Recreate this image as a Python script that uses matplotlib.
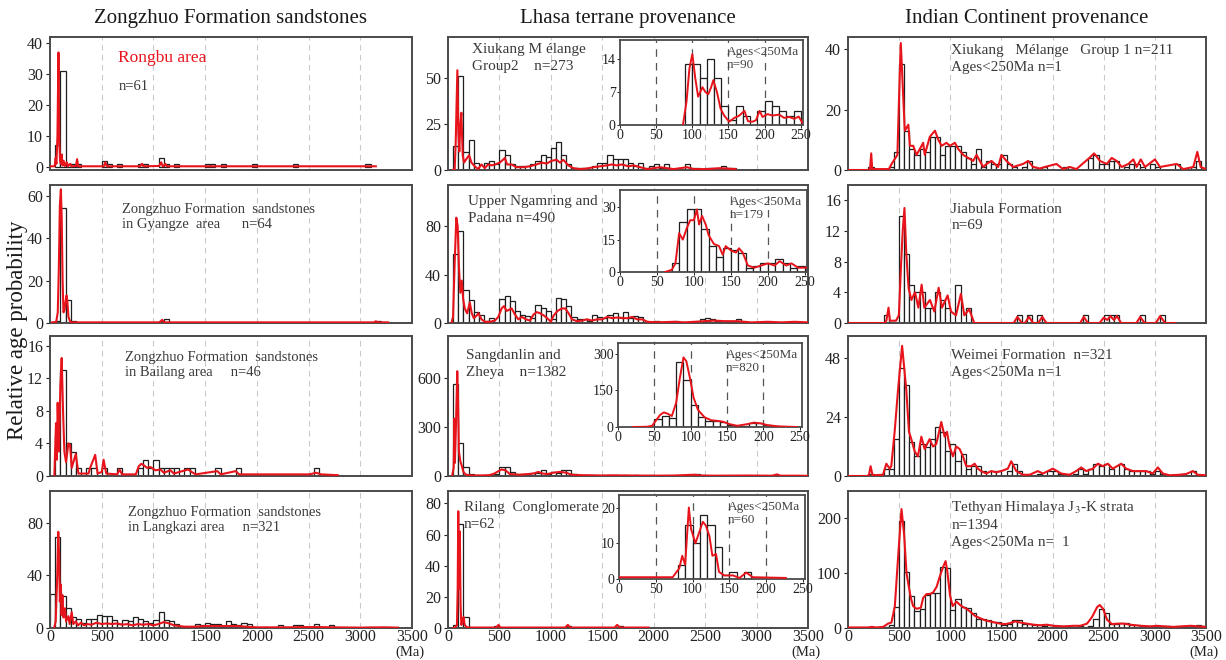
import matplotlib.pyplot as plt

plt.rcParams['font.family'] = ['Liberation Serif', 'DejaVu Sans']
plt.rcParams['mathtext.fontset'] = 'stix'

RED = '#e8141b'
TEXT = '#3a3a3a'
FRAME = '#4a4a4a'

# ---------------- histogram counts (50 Ma bins, lists start at 0 Ma) ----------------
rongbu_counts = {50: 7, 100: 31, 150: 1, 200: 1, 250: 1, 500: 2, 550: 1, 650: 1, 850: 1,
                 900: 1, 1050: 3, 1100: 1, 1200: 1, 1500: 1, 1550: 1, 1650: 1, 1950: 1,
                 2350: 1, 3050: 1}
gyangze_counts = {50: 1, 100: 54, 150: 11, 200: 1, 1050: 1, 1100: 2, 3150: 1}
bailang_counts = {50: 5, 100: 13, 150: 4, 200: 3, 250: 1, 350: 1, 400: 1, 500: 1, 650: 1,
                  850: 1, 900: 2, 950: 1, 1000: 2, 1050: 1, 1100: 1, 1150: 1, 1200: 1,
                  1300: 1, 1350: 1, 1600: 1, 1800: 1, 2550: 1}
langkazi_counts = [26, 69, 24, 15, 8, 7, 4, 7, 7, 10,
                   9, 9, 6, 3, 6, 5, 8, 7, 5, 4,
                   6, 12, 6, 5, 3, 1, 1, 1, 3, 2,
                   4, 3, 3, 1, 5, 3, 2, 4, 3, 0,
                   0, 1, 0, 0, 2, 1, 0, 2, 2, 0,
                   1, 3, 0, 0, 2, 0, 0, 0, 0, 0,
                   0, 1, 1, 0, 1, 1]

xiukang2_counts = [0, 13, 51, 10, 16, 4, 0, 4, 5, 3,
                   11, 8, 3, 2, 2, 2, 3, 5, 8, 7,
                   12, 15, 8, 3, 1, 1, 1, 0, 2, 4,
                   4, 8, 6, 6, 6, 4, 2, 4, 1, 2,
                   3, 1, 3, 0, 0, 0, 3, 1, 1, 0,
                   1, 1, 1, 2, 1, 1]
ngamring_counts = [0, 57, 76, 27, 19, 9, 7, 2, 4, 0,
                   20, 22, 18, 10, 7, 6, 4, 15, 12, 10,
                   3, 21, 20, 14, 5, 3, 3, 2, 7, 5,
                   4, 7, 8, 5, 9, 4, 6, 5, 1, 0,
                   2, 1, 1, 1, 2, 1, 0, 1, 1, 3,
                   4, 3, 2, 2, 2, 1, 3, 0, 0, 0,
                   0, 1, 1]
sangdanlin_counts = [0, 562, 200, 54, 14, 4, 3, 5, 5, 15,
                     54, 58, 24, 8, 10, 14, 16, 20, 34, 14,
                     24, 16, 34, 34, 14, 6, 5, 4, 6, 3,
                     4, 5, 4, 3, 5, 3, 4, 2, 3, 4,
                     3, 2, 3, 2, 2, 2, 2, 3, 10, 6,
                     3, 3, 2, 2, 3, 2, 2, 2, 2, 2,
                     3, 3, 2, 2, 2, 2, 2, 2, 2]
rilang_counts = {50: 2, 100: 67, 150: 7, 450: 1, 1150: 1, 1650: 1}

xiukang1_counts = [0, 0, 0, 0, 1, 0, 0, 0, 1, 6,
                   35, 13, 7, 5, 7, 6, 11, 11, 5, 8,
                   8, 8, 6, 4, 2, 7, 1, 3, 2, 2,
                   5, 2, 1, 0, 1, 3, 1, 0, 1, 0,
                   0, 0, 1, 0, 0, 0, 0, 4, 5, 2,
                   2, 3, 3, 0, 1, 2, 2, 1, 0, 2,
                   1, 0, 0, 0, 2, 0, 0, 1, 3]
jiabula_counts = {350: 1, 500: 14, 550: 9, 600: 5, 650: 4, 700: 4, 750: 2, 800: 2, 850: 4,
                  900: 3, 950: 2, 1050: 5, 1150: 2, 1650: 1, 1750: 1, 1850: 1, 2300: 1,
                  2500: 1, 2550: 1, 2600: 1, 2850: 1, 3050: 1}
weimei_counts = [0, 0, 0, 0, 1, 0, 0, 3, 3, 15,
                 44, 37, 14, 8, 13, 12, 15, 20, 18, 10,
                 13, 6, 9, 3, 4, 4, 2, 0, 2, 2,
                 0, 2, 5, 2, 0, 0, 0, 1, 0, 2,
                 2, 1, 0, 0, 1, 3, 1, 3, 5, 4,
                 5, 3, 0, 5, 3, 2, 2, 2, 2, 1,
                 2, 1, 0, 0, 0, 1, 0, 2]
tethyan_counts = [0, 0, 0, 0, 0, 0, 0, 2, 5, 39,
                  195, 102, 58, 31, 34, 60, 63, 63, 111, 109,
                  33, 53, 39, 36, 27, 17, 17, 14, 11, 11,
                  6, 8, 14, 14, 8, 8, 6, 6, 4, 6,
                  3, 3, 3, 1, 1, 3, 2, 3, 17, 34,
                  28, 7, 7, 9, 9, 6, 5, 4, 3, 3,
                  3, 4, 3, 2, 1, 2, 2, 3, 5, 3]

# ---------------- probability density curves, (age Ma, value) ----------------
rongbu_curve = [(0, 0.2), (45, 0.2), (55, 3), (62, 1), (72, 10), (82, 37), (90, 8), (97, 2),
                (105, 1), (114, 4), (120, 0.5), (132, 2), (142, 0.3), (162, 1.5), (172, 0.2),
                (197, 1), (207, 0.2), (250, 0.3), (262, 2.5), (272, 0.2), (520, 0.2),
                (535, 1.5), (550, 0.2), (870, 0.2), (890, 1), (905, 0.2), (1055, 0.3),
                (1075, 1.5), (1090, 0.2), (1100, 0.3), (1115, 1), (1130, 0.2), (3150, 0.2)]
gyangze_curve = [(20, 0.3), (60, 0.5), (75, 5), (85, 25), (95, 55), (105, 63), (113, 50),
                 (122, 20), (130, 5), (140, 6), (150, 10), (160, 13), (168, 10), (178, 3),
                 (195, 0.5), (215, 0.3), (1060, 0.3), (1085, 1.5), (1105, 0.3), (3130, 0.3),
                 (3150, 0.8), (3170, 0.3), (3270, 0.3)]
bailang_curve = [(42, 0), (52, 4), (58, 6.5), (66, 2), (74, 9), (87, 3), (100, 11), (113, 14.5),
                 (126, 8), (139, 3), (155, 1.7), (178, 4), (194, 3.8), (210, 1), (249, 2.7),
                 (275, 0.3), (372, 0.3), (388, 1), (437, 2.6), (460, 0.3), (501, 0.5),
                 (518, 2), (544, 0.3), (650, 0.2), (673, 0.8), (696, 0.2), (830, 0.2),
                 (858, 1.2), (883, 1.5), (909, 1.3), (938, 1.0), (971, 1.1), (1019, 0.7),
                 (1068, 0.8), (1100, 0.4), (1165, 0.7), (1197, 0.3), (1336, 0.8), (1369, 0.5),
                 (1408, 0.2), (1618, 0.6), (1650, 0.2), (1796, 0.6), (1828, 0.2), (2508, 0.2),
                 (2573, 0.4), (2621, 0.2), (2783, 0.1)]
langkazi_curve = [(40, 0), (55, 5), (70, 40), (80, 73), (88, 55), (95, 20), (105, 33), (112, 10),
                  (120, 25), (130, 8), (145, 15), (155, 5), (178, 9), (190, 3), (210, 12),
                  (225, 3), (250, 5), (270, 2), (300, 4), (330, 2), (360, 3), (400, 2.5),
                  (450, 4), (500, 3), (550, 3.5), (600, 3), (650, 3.5), (700, 2.5), (750, 3),
                  (800, 2), (850, 3), (900, 2.5), (950, 3), (1000, 2), (1050, 3), (1100, 4.5),
                  (1150, 3.5), (1200, 2), (1250, 1.5), (1300, 1), (1400, 1), (1500, 1.5),
                  (1600, 1.5), (1700, 1.5), (1800, 1.5), (1900, 1), (2000, 0.5), (2100, 0.5),
                  (2300, 0.5), (2450, 0.7), (2600, 0.7), (2750, 0.5), (3000, 0.3), (3200, 0.5),
                  (3365, 0.3)]

xiukang2_curve = [(49, 0), (65, 0.5), (75, 15), (91, 54), (101, 20), (110, 10), (120, 25),
                  (130, 31), (143, 8), (156, 4), (179, 6), (205, 8), (228, 4), (260, 2),
                  (293, 0.5), (325, 3), (358, 1), (390, 3), (423, 2.5), (455, 3), (504, 4),
                  (553, 6.5), (575, 3), (618, 3), (666, 1.5), (731, 1.5), (796, 2), (861, 3),
                  (910, 4), (959, 3.5), (1008, 5), (1056, 5.5), (1089, 4), (1121, 5.5),
                  (1170, 2.5), (1219, 1), (1284, 0.5), (1349, 0.8), (1414, 1.5), (1479, 2),
                  (1544, 2.5), (1593, 3), (1641, 2.5), (1690, 3), (1755, 2), (1804, 2.5),
                  (1869, 1.5), (1934, 0.5), (1999, 1), (2064, 1.5), (2129, 1), (2194, 0.5),
                  (2324, 1.5), (2389, 0.5), (2519, 0.5), (2649, 1), (2795, 0.5)]
ngamring_curve = [(33, 0), (49, 5), (65, 50), (81, 87), (94, 80), (107, 45), (120, 25),
                  (134, 35), (147, 20), (163, 12), (186, 8), (212, 17), (231, 8), (251, 4),
                  (277, 6), (296, 8), (326, 3), (358, 1), (407, 1), (456, 2), (489, 5),
                  (521, 12), (544, 14), (570, 10), (596, 11), (619, 12), (651, 7), (684, 3),
                  (717, 5), (759, 3), (798, 2), (831, 7), (863, 9), (896, 8), (935, 6),
                  (977, 3), (1000, 1), (1026, 6), (1065, 10), (1107, 12), (1140, 12),
                  (1173, 8), (1205, 3), (1254, 1.5), (1303, 2), (1352, 3), (1400, 2),
                  (1449, 3), (1498, 3), (1547, 5), (1596, 4), (1645, 4.5), (1694, 4),
                  (1742, 4), (1791, 5), (1840, 3), (1889, 3), (1938, 1), (2003, 0.7),
                  (2101, 0.7), (2199, 1), (2296, 0.5), (2394, 1), (2492, 1.5), (2589, 2),
                  (2687, 1.5), (2817, 1.5), (2948, 0.5), (3110, 1), (3241, 0.5), (3371, 1),
                  (3500, 0.5)]
sangdanlin_curve = [(40, 0), (55, 50), (62, 350), (67, 80), (75, 250), (90, 640), (98, 450),
                    (106, 150), (120, 90), (135, 60), (150, 25), (170, 10), (200, 5), (250, 3),
                    (350, 4), (400, 5), (450, 15), (520, 40), (560, 35), (600, 12), (650, 10),
                    (700, 8), (780, 12), (830, 15), (880, 25), (920, 15), (970, 12),
                    (1020, 20), (1090, 25), (1150, 20), (1200, 8), (1300, 5), (1400, 4),
                    (1500, 3), (1600, 4), (1800, 3), (2000, 2), (2200, 3), (2400, 8),
                    (2450, 3), (2600, 2), (2900, 3), (3150, 2), (3200, 10), (3230, 2),
                    (3400, 2), (3500, 1)]
rilang_curve = [(52, 0), (72, 0.5), (87, 2), (94, 25), (100, 75), (105, 25), (110, 60),
                (115, 62), (122, 15), (130, 2), (142, 5), (152, 7), (162, 2), (182, 0.5),
                (210, 0.3), (470, 0.3), (490, 2), (510, 0.3), (1140, 0.3), (1165, 2),
                (1190, 0.3), (1620, 0.3), (1645, 2), (1670, 0.3), (1950, 0.3)]

xiukang1_curve = [(0, 0), (200, 0), (215, 0.3), (227, 5.5), (237, 0.3), (400, 0.3), (426, 2),
                  (445, 3), (483, 5), (500, 25), (516, 42), (539, 25), (555, 13), (590, 15),
                  (605, 8), (638, 8), (670, 5), (703, 7), (735, 9), (750, 5), (800, 11),
                  (850, 13), (883, 10), (915, 8), (963, 9), (996, 8), (1045, 9), (1077, 7),
                  (1126, 5), (1175, 4), (1224, 3), (1257, 5), (1289, 3), (1322, 1),
                  (1354, 2), (1403, 3), (1468, 1), (1500, 5), (1549, 3), (1614, 1),
                  (1712, 2), (1761, 3), (1810, 1), (1875, 0.5), (1924, 1), (2038, 2),
                  (2103, 0.3), (2168, 1), (2233, 0.3), (2360, 4), (2406, 5.5), (2464, 3),
                  (2529, 2), (2578, 4), (2627, 3), (2676, 1), (2741, 2), (2790, 3.5),
                  (2822, 1), (2862, 3.5), (2904, 1), (3001, 3.5), (3050, 1), (3213, 2),
                  (3278, 0.3), (3376, 1), (3415, 6), (3448, 1), (3500, 0.3)]
jiabula_curve = [(0, 0), (360, 0), (375, 0.3), (396, 2), (410, 0.3), (470, 0.3), (497, 1),
                 (520, 8), (535, 12), (552, 15), (570, 9), (593, 4.5), (620, 3), (655, 4),
                 (688, 2), (720, 5), (746, 2), (801, 3), (844, 1.5), (886, 4.6), (919, 2),
                 (974, 3.6), (1007, 1.5), (1056, 1), (1104, 3.8), (1137, 1), (1185, 1.8),
                 (1234, 0), (1620, 0), (1656, 0.8), (1700, 0), (1730, 0), (1769, 0.8),
                 (1810, 0), (1860, 0), (1899, 0.8), (1940, 0), (2270, 0), (2305, 0.8),
                 (2345, 0), (2460, 0), (2500, 0.7), (2535, 0.4), (2565, 0.9), (2600, 0.4),
                 (2630, 0.9), (2670, 0), (2820, 0), (2857, 0.8), (2900, 0), (3010, 0),
                 (3052, 0.9), (3100, 0), (3200, 0)]
weimei_curve = [(0, 0), (190, 0), (205, 0.5), (221, 4), (240, 0.3), (342, 0.5), (375, 5),
                (407, 3), (423, 4), (456, 18), (489, 35), (529, 53), (570, 35), (596, 18),
                (619, 15), (652, 10), (684, 8), (717, 16), (749, 11), (798, 15), (831, 12),
                (863, 13), (912, 22), (945, 16), (968, 18), (993, 12), (1026, 8), (1058, 12),
                (1091, 11), (1124, 8), (1156, 4), (1205, 4), (1238, 5), (1270, 3), (1303, 2),
                (1352, 1), (1400, 2), (1449, 1.5), (1498, 2), (1563, 3), (1596, 6),
                (1645, 2), (1710, 0.5), (1775, 0.5), (1856, 2), (1905, 1), (2003, 3),
                (2084, 1), (2166, 0.5), (2231, 2), (2280, 3.5), (2329, 2), (2394, 3),
                (2443, 5), (2492, 4), (2540, 5), (2589, 3), (2671, 5), (2719, 3),
                (2785, 2), (2850, 2), (2915, 2), (2980, 1), (3029, 3.5), (3078, 1),
                (3143, 0.3), (3241, 0.5), (3306, 0.8), (3371, 2), (3420, 0.5), (3500, 0.3)]
tethyan_curve = [(0, 1), (196, 1), (229, 2), (278, 1), (343, 2), (392, 8), (425, 10),
                 (458, 40), (490, 130), (523, 217), (549, 170), (572, 100), (595, 75),
                 (614, 55), (637, 40), (670, 35), (712, 37), (735, 55), (768, 62), (801, 62),
                 (833, 65), (866, 75), (899, 95), (931, 112), (954, 122), (970, 105),
                 (997, 60), (1023, 40), (1062, 48), (1095, 42), (1127, 38), (1160, 35),
                 (1193, 30), (1242, 22), (1291, 18), (1340, 14), (1389, 12), (1438, 10),
                 (1487, 8), (1536, 7), (1585, 9), (1634, 12), (1683, 10), (1748, 8),
                 (1814, 6), (1879, 5), (1944, 6), (2010, 4), (2108, 3), (2206, 4),
                 (2271, 4), (2337, 8), (2386, 20), (2435, 38), (2461, 42), (2494, 35),
                 (2533, 15), (2582, 7), (2631, 8), (2696, 8), (2761, 6), (2860, 4),
                 (2958, 3), (3023, 4), (3088, 3), (3186, 2), (3252, 3), (3350, 4),
                 (3415, 3), (3500, 2)]

# ---------------- ages < 250 Ma insets (10 Ma bins) ----------------
xiukang2_young_counts = {90: 13, 100: 13, 110: 10, 120: 14, 130: 10, 140: 4, 150: 1, 160: 4,
                         170: 2, 190: 3, 200: 5, 210: 4, 220: 3, 230: 2, 240: 3}
xiukang2_young_curve = [(87, 0), (92, 5), (96, 12), (100, 15), (104, 10), (108, 6), (114, 8),
                        (118, 7), (122, 6.5), (126, 8), (129, 9.5), (134, 7), (139, 3.5),
                        (144, 2), (151, 0.7), (158, 1.5), (165, 2), (172, 3), (177, 0.8),
                        (183, 0.7), (188, 1), (193, 3), (197, 1.7), (204, 2.3), (211, 2),
                        (220, 2.2), (227, 1.5), (234, 1.7), (241, 1.3), (247, 1.8), (252, 0.5)]
ngamring_young_counts = {70: 4, 80: 23, 90: 29, 100: 29, 110: 20, 120: 12, 130: 7, 140: 11,
                         150: 10, 160: 9, 170: 2, 180: 3, 190: 4, 200: 4, 210: 6, 220: 4,
                         230: 2, 240: 3}
ngamring_young_curve = [(61, 0), (70, 1), (75, 4), (80, 18), (85, 15), (90, 20), (95, 24),
                        (100, 24), (104, 29), (107, 22), (111, 26), (116, 22), (120, 17),
                        (127, 13), (134, 12), (139, 8), (143, 12), (150, 10), (157, 9),
                        (161, 11), (166, 9), (173, 3), (182, 2), (191, 3), (200, 4), (209, 3),
                        (216, 5), (225, 3), (232, 4), (241, 2), (252, 2)]
sangdanlin_young_counts = {50: 34, 60: 44, 70: 35, 80: 266, 90: 193, 100: 90, 110: 40,
                           120: 25, 130: 25, 140: 20, 150: 10, 160: 5, 170: 5, 180: 15,
                           190: 15, 200: 8, 210: 3, 220: 2, 230: 1, 240: 1}
sangdanlin_young_curve = [(20, 0), (40, 1), (47, 5), (53, 30), (58, 50), (63, 60), (68, 55),
                          (74, 45), (80, 100), (85, 200), (90, 286), (94, 270), (99, 200),
                          (104, 120), (110, 70), (119, 40), (128, 28), (137, 25), (144, 22),
                          (153, 12), (164, 5), (178, 12), (187, 18), (196, 15), (205, 8),
                          (219, 3), (235, 1), (246, 0)]
rilang_young_counts = {80: 4, 90: 15, 100: 10, 110: 18, 120: 15, 130: 9, 140: 1, 150: 2, 170: 2}
rilang_young_curve = [(0, 0.5), (73, 0.5), (82, 3), (86, 6.5), (90, 4), (95, 20), (98, 14),
                      (104, 10), (109, 13), (114, 16), (118, 15), (123, 12), (127, 6.5),
                      (132, 7), (136, 2), (143, 1), (155, 1), (164, 0.3), (173, 1.8),
                      (182, 0.5), (227, 0.3)]

column_titles = ['Zongzhuo Formation sandstones', 'Lhasa terrane provenance',
                 'Indian Continent provenance']
age_ticks = [0, 500, 1000, 1500, 2000, 2500, 3000, 3500]
young_ticks = [0, 50, 100, 150, 200, 250]

W, H = 1226, 660
fig = plt.figure(figsize=(W / 100, H / 100), dpi=100)


def px_rect(x0, x1, y0, y1):
    return [x0 / W, 1 - y1 / H, (x1 - x0) / W, (y1 - y0) / H]


def draw_hist(ax, counts, width, lw):
    if isinstance(counts, dict):
        lefts, heights = list(counts.keys()), list(counts.values())
    else:
        lefts = [i * width for i in range(len(counts))]
        heights = counts
    pairs = [(l, h) for l, h in zip(lefts, heights) if h > 0]
    ax.bar([p[0] for p in pairs], [p[1] for p in pairs], width=width, align='edge',
           facecolor='white', edgecolor='#1e1e1e', linewidth=lw, zorder=2)


def draw_curve(ax, curve, lw=1.5):
    ax.plot([c[0] for c in curve], [c[1] for c in curve], color=RED, lw=lw, zorder=3,
            solid_joinstyle='round')


def style_frame(ax, lw):
    for s in ax.spines.values():
        s.set_color(FRAME)
        s.set_linewidth(lw)


def main_panel(rect, counts, curve, ylim, yticks, bottom):
    ax = fig.add_axes(rect)
    for g in age_ticks[1:-1]:
        ax.axvline(g, color='#c9c9c9', ls=(0, (5, 4)), lw=0.8, zorder=0)
    draw_hist(ax, counts, 50, 0.9)
    draw_curve(ax, curve)
    ax.set_xlim(0, 3500)
    ax.set_ylim(*ylim)
    ax.set_yticks(yticks)
    ax.set_xticks(age_ticks)
    ax.tick_params(axis='y', labelsize=11.5, length=3, width=0.8, pad=2,
                   colors='#222222', direction='out')
    if bottom:
        ax.tick_params(axis='x', labelsize=11.5, length=0, pad=1, colors='#222222')
        ax.annotate('(Ma)', xy=(3500, 0), xycoords=('data', 'axes fraction'),
                    xytext=(-2, -24), textcoords='offset pixels', ha='center',
                    va='center', fontsize=10.5, color='#222222')
    else:
        ax.tick_params(axis='x', length=0, labelbottom=False)
    style_frame(ax, 1.4)
    return ax


def inset_panel(rect, counts, curve, ylim, yticks, label):
    ax = fig.add_axes(rect)
    for g in young_ticks[1:-1]:
        ax.axvline(g, color='#555555', ls=(0, (6, 5)), lw=0.9, zorder=0)
    draw_hist(ax, counts, 10, 0.9)
    draw_curve(ax, curve, lw=1.4)
    ax.set_xlim(0, 253)
    ax.set_ylim(*ylim)
    ax.set_xticks(young_ticks)
    ax.set_yticks(yticks)
    ax.tick_params(labelsize=10, length=2, width=0.7, pad=1, colors='#222222')
    ax.text(0.585, 0.93, label, transform=ax.transAxes, ha='left', va='top',
            fontsize=9.5, color='#444444', linespacing=1.15)
    style_frame(ax, 1.3)
    return ax


cols = [(50, 412), (448, 808), (848, 1206)]
rows = [(37, 170), (185, 323), (336, 476), (491, 628)]

panels = [
    # left column
    (0, 0, rongbu_counts, rongbu_curve, (-1, 42), [0, 10, 20, 30, 40]),
    (0, 1, gyangze_counts, gyangze_curve, (0, 65), [0, 20, 40, 60]),
    (0, 2, bailang_counts, bailang_curve, (0, 17.2), [0, 4, 8, 12, 16]),
    (0, 3, langkazi_counts, langkazi_curve, (0, 104), [0, 40, 80]),
    # middle column
    (1, 0, xiukang2_counts, xiukang2_curve, (0, 72), [0, 25, 50]),
    (1, 1, ngamring_counts, ngamring_curve, (0, 114), [0, 40, 80]),
    (1, 2, sangdanlin_counts, sangdanlin_curve, (0, 855), [0, 300, 600]),
    (1, 3, rilang_counts, rilang_curve, (0, 88), [0, 20, 40, 60, 80]),
    # right column
    (2, 0, xiukang1_counts, xiukang1_curve, (0, 44), [0, 20, 40]),
    (2, 1, jiabula_counts, jiabula_curve, (0, 18), [0, 4, 8, 12, 16]),
    (2, 2, weimei_counts, weimei_curve, (0, 57), [0, 24, 48]),
    (2, 3, tethyan_counts, tethyan_curve, (0, 250), [0, 100, 200]),
]

axes = {}
for c, r, counts, curve, ylim, yticks in panels:
    x0, x1 = cols[c]
    y0, y1 = rows[r]
    axes[(c, r)] = main_panel(px_rect(x0, x1, y0, y1), counts, curve, ylim, yticks, r == 3)

# panel captions
left_kw = dict(ha='left', va='top', color=TEXT, fontsize=10.5, linespacing=1.2)
ax = axes[(0, 0)]
ax.text(0.188, 0.90, 'Rongbu area', transform=ax.transAxes, ha='left', va='top',
        color=RED, fontsize=12.5)
ax.text(0.19, 0.68, 'n=61', transform=ax.transAxes, **left_kw)
axes[(0, 1)].text(0.20, 0.87, 'Zongzhuo Formation  sandstones\nin Gyangze  area      n=64',
                  transform=axes[(0, 1)].transAxes, **left_kw)
axes[(0, 2)].text(0.207, 0.89, 'Zongzhuo Formation  sandstones\nin Bailang area     n=46',
                  transform=axes[(0, 2)].transAxes, **left_kw)
axes[(0, 3)].text(0.215, 0.89, 'Zongzhuo Formation  sandstones\nin Langkazi area     n=321',
                  transform=axes[(0, 3)].transAxes, **left_kw)

mid_kw = dict(ha='left', va='top', color=TEXT, fontsize=11, linespacing=1.45)
axes[(1, 0)].text(0.067, 0.955, 'Xiukang M élange\nGroup2    n=273',
                  transform=axes[(1, 0)].transAxes, **mid_kw)
axes[(1, 1)].text(0.056, 0.93, 'Upper Ngamring and\nPadana n=490',
                  transform=axes[(1, 1)].transAxes, **mid_kw)
axes[(1, 2)].text(0.05, 0.91, 'Sangdanlin and\nZheya    n=1382',
                  transform=axes[(1, 2)].transAxes, **mid_kw)
axes[(1, 3)].text(0.044, 0.93, 'Rilang  Conglomerate\nn=62',
                  transform=axes[(1, 3)].transAxes, **mid_kw)

right_kw = dict(ha='left', va='top', color=TEXT, fontsize=11, linespacing=1.35)
axes[(2, 0)].text(0.288, 0.945, 'Xiukang   Mélange   Group 1 n=211\nAges<250Ma n=1',
                  transform=axes[(2, 0)].transAxes, **right_kw)
axes[(2, 1)].text(0.288, 0.87, 'Jiabula Formation\nn=69',
                  transform=axes[(2, 1)].transAxes, **right_kw)
axes[(2, 2)].text(0.288, 0.905, 'Weimei Formation  n=321\nAges<250Ma n=1',
                  transform=axes[(2, 2)].transAxes, **right_kw)
axes[(2, 3)].text(0.288, 0.945, 'Tethyan Himalaya J$_3$-K strata\nn=1394\nAges<250Ma n=  1',
                  transform=axes[(2, 3)].transAxes, **right_kw)

# insets with ages < 250 Ma
inset_panel(px_rect(620, 803, 40, 125), xiukang2_young_counts, xiukang2_young_curve,
            (0, 18), [0, 7, 14], 'Ages<250Ma\nn=90')
inset_panel(px_rect(620, 807, 190, 272), ngamring_young_counts, ngamring_young_curve,
            (0, 38), [0, 15, 30], 'Ages<250Ma\nn=179')
inset_panel(px_rect(618, 802, 343, 427), sangdanlin_young_counts, sangdanlin_young_curve,
            (0, 345), [0, 150, 300], 'Ages<250Ma\nn=820')
inset_panel(px_rect(619, 805, 495, 579), rilang_young_counts, rilang_young_curve,
            (0, 23.5), [0, 10, 20], 'Ages<250Ma\nn=60')

# column headings and shared y label
for (x0, x1), title in zip(cols, column_titles):
    fig.text((x0 + x1) / 2 / W, 1 - 18 / H, title, ha='center', va='center',
             fontsize=15, color='#1a1a1a')
fig.text(18 / W, 0.5, 'Relative age probability', rotation=90, ha='center',
         va='center', fontsize=16.5, color='#1a1a1a')

fig.savefig('out.png', dpi=100, facecolor='white')
